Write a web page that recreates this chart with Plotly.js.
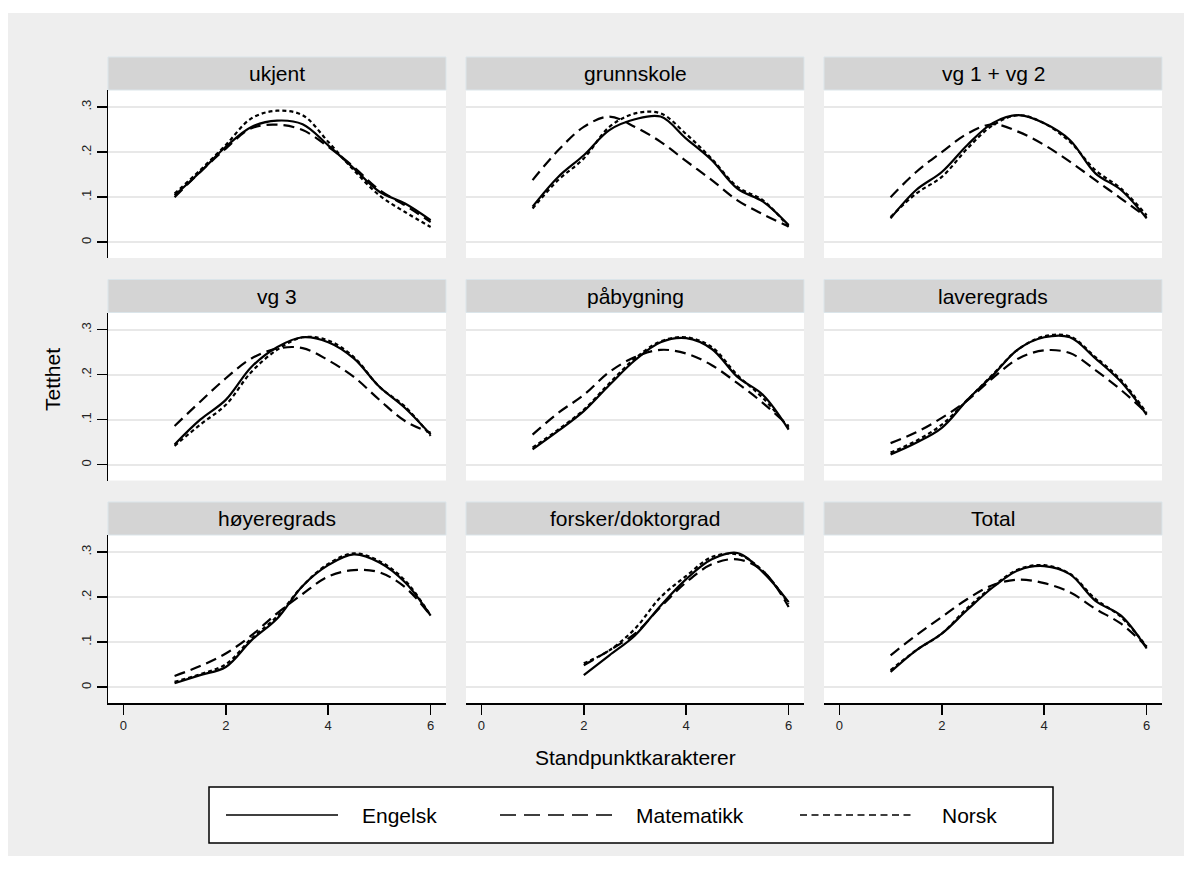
<!DOCTYPE html>
<html>
<head>
<meta charset="utf-8">
<script src="https://cdn.plot.ly/plotly-3.0.1.min.js"></script>
<style>html,body{margin:0;padding:0;background:#fff}#chart{width:1192px;height:869px}</style>
</head>
<body>
<div id="chart"></div>
<script>
// ---------------- data ----------------
const panelTitles = ["ukjent", "grunnskole", "vg 1 + vg 2", "vg 3", "påbygning", "laveregrads", "høyeregrads", "forsker/doktorgrad", "Total"];
const xGrid = [1, 1.5, 2, 2.5, 3, 3.5, 4, 4.5, 5, 5.5, 6];
const xGridForsker = [2, 2.5, 3, 3.5, 4, 4.5, 5, 5.5, 6];
const seriesNames = ["Engelsk", "Matematikk", "Norsk"];
const xTickVals = [0, 2, 4, 6];
const xTickText = ["0", "2", "4", "6"];
const yTickVals = [0, 0.1, 0.2, 0.3];
const yTickText = ["0", ".1", ".2", ".3"];
const xTitle = "Standpunktkarakterer";
const yTitle = "Tetthet";

const engelsk = [
  [0.104, 0.156, 0.212, 0.256, 0.270, 0.262, 0.215, 0.164, 0.112, 0.086, 0.049],
  [0.079, 0.145, 0.193, 0.249, 0.273, 0.279, 0.230, 0.182, 0.119, 0.090, 0.038],
  [0.053, 0.116, 0.156, 0.216, 0.265, 0.282, 0.264, 0.227, 0.153, 0.116, 0.053],
  [0.045, 0.100, 0.144, 0.217, 0.261, 0.283, 0.272, 0.236, 0.173, 0.126, 0.067],
  [0.034, 0.075, 0.119, 0.177, 0.232, 0.272, 0.281, 0.257, 0.195, 0.155, 0.078],
  [0.023, 0.049, 0.082, 0.144, 0.199, 0.257, 0.283, 0.283, 0.236, 0.184, 0.111],
  [0.009, 0.027, 0.045, 0.104, 0.152, 0.225, 0.271, 0.295, 0.277, 0.233, 0.159],
  [0.027, 0.071, 0.115, 0.181, 0.240, 0.284, 0.298, 0.255, 0.189],
  [0.034, 0.082, 0.119, 0.172, 0.222, 0.260, 0.269, 0.251, 0.192, 0.159, 0.086]
];
const matematikk = [
  [0.100, 0.156, 0.208, 0.253, 0.261, 0.249, 0.212, 0.167, 0.116, 0.082, 0.045],
  [0.138, 0.204, 0.256, 0.279, 0.256, 0.223, 0.180, 0.138, 0.093, 0.062, 0.035],
  [0.100, 0.156, 0.200, 0.241, 0.262, 0.245, 0.216, 0.179, 0.138, 0.097, 0.056],
  [0.086, 0.140, 0.192, 0.236, 0.258, 0.259, 0.232, 0.195, 0.144, 0.097, 0.071],
  [0.067, 0.115, 0.155, 0.206, 0.239, 0.255, 0.247, 0.221, 0.181, 0.137, 0.086],
  [0.048, 0.072, 0.104, 0.143, 0.193, 0.236, 0.254, 0.248, 0.210, 0.166, 0.115],
  [0.025, 0.047, 0.075, 0.115, 0.164, 0.207, 0.246, 0.260, 0.255, 0.222, 0.159],
  [0.049, 0.082, 0.119, 0.178, 0.233, 0.273, 0.284, 0.258, 0.178],
  [0.071, 0.115, 0.156, 0.196, 0.227, 0.239, 0.231, 0.211, 0.174, 0.141, 0.090]
];
const norsk = [
  [0.108, 0.160, 0.216, 0.275, 0.292, 0.282, 0.223, 0.160, 0.104, 0.067, 0.034],
  [0.075, 0.138, 0.186, 0.256, 0.286, 0.286, 0.240, 0.185, 0.123, 0.093, 0.034],
  [0.056, 0.108, 0.145, 0.208, 0.260, 0.282, 0.264, 0.223, 0.160, 0.119, 0.060],
  [0.042, 0.089, 0.133, 0.206, 0.255, 0.283, 0.276, 0.239, 0.173, 0.129, 0.064],
  [0.038, 0.078, 0.122, 0.181, 0.236, 0.274, 0.283, 0.261, 0.199, 0.148, 0.082],
  [0.027, 0.053, 0.089, 0.144, 0.201, 0.257, 0.285, 0.285, 0.239, 0.188, 0.115],
  [0.012, 0.029, 0.051, 0.108, 0.157, 0.225, 0.274, 0.297, 0.280, 0.237, 0.159],
  [0.053, 0.082, 0.130, 0.200, 0.247, 0.289, 0.295, 0.258, 0.185],
  [0.038, 0.082, 0.119, 0.176, 0.224, 0.262, 0.271, 0.252, 0.196, 0.156, 0.090]
];

// ---------------- styling / geometry (pixels) ----------------
const W = 1192, H = 869;
const FONT = "Liberation Sans, Arial, Helvetica, sans-serif";
const dashes = ["solid", "11px,6px", "4px,3px"];
const legendDashes = ["solid", "16px,8px", "7px,4.5px"];
const lineWidth = 2.2;
const colLeft = [108, 466, 824], colWidth = 338;
const rowTop = [90, 312.5, 535], rowHeight = 168, stripH = 33;
const xRange = [-0.3, 6.3];
const yRange = [-0.035, 0.338];
const textSize = 21, tickSize = 13;

const px = v => v / W;
const py = v => 1 - v / H;

const allSeries = [engelsk, matematikk, norsk];
const traces = [];
const layout = {
  width: W, height: H,
  margin: {l: 0, r: 0, t: 0, b: 0},
  paper_bgcolor: "#eeeeee",
  plot_bgcolor: "#ffffff",
  showlegend: false,
  font: {family: FONT, color: "#000"},
  shapes: [], annotations: []
};

panelTitles.forEach((title, i) => {
  const r = Math.floor(i / 3), c = i % 3;
  const n = i + 1;
  const xa = n === 1 ? "x" : "x" + n;
  const ya = n === 1 ? "y" : "y" + n;
  const xs = i === 7 ? xGridForsker : xGrid;
  allSeries.forEach((ser, s) => {
    traces.push({
      type: "scatter", mode: "lines", name: seriesNames[s],
      x: xs, y: ser[i], xaxis: xa, yaxis: ya,
      line: {color: "#000", width: lineWidth, dash: dashes[s], shape: "spline", smoothing: 1},
      hoverinfo: "skip"
    });
  });
  const L = colLeft[c], T = rowTop[r];
  const isLeft = c === 0, isBottom = r === 2;
  layout["xaxis" + (n === 1 ? "" : n)] = {
    domain: [px(L), px(L + colWidth)], anchor: ya, range: xRange,
    showgrid: false, zeroline: false,
    showline: isBottom, linecolor: "#000", linewidth: 1.5,
    ticks: isBottom ? "outside" : "", ticklen: 10, tickwidth: 1.5, tickcolor: "#000",
    showticklabels: isBottom, tickmode: "array", tickvals: xTickVals, ticktext: xTickText,
    tickfont: {size: tickSize, color: "#222", family: FONT}, fixedrange: true
  };
  layout["yaxis" + (n === 1 ? "" : n)] = {
    domain: [py(T + rowHeight), py(T)], anchor: xa, range: yRange,
    showgrid: true, gridcolor: "#e8e8e8", gridwidth: 2, zeroline: false,
    showline: isLeft, linecolor: "#000", linewidth: 1.5,
    ticks: isLeft ? "outside" : "", ticklen: 10, tickwidth: 1.5, tickcolor: "#000",
    showticklabels: isLeft, tickmode: "array", tickvals: yTickVals, ticktext: yTickText,
    tickangle: -90, tickfont: {size: tickSize, color: "#222", family: FONT}, fixedrange: true
  };
  // strip header
  layout.shapes.push({
    type: "rect", xref: "paper", yref: "paper",
    x0: px(L), x1: px(L + colWidth), y0: py(T), y1: py(T - stripH),
    fillcolor: "#d4d4d4", line: {color: "#dbe5ea", width: 1}, layer: "above"
  });
  layout.annotations.push({
    xref: "paper", yref: "paper", x: px(L + colWidth / 2), y: py(T - stripH / 2),
    text: title, showarrow: false, xanchor: "center", yanchor: "middle",
    font: {size: textSize, family: FONT, color: "#000"}
  });
});

// white outer border
[[0, 0, W, 13], [0, 856, W, H], [0, 0, 8, H], [1184, 0, W, H]].forEach(b => {
  layout.shapes.push({type: "rect", xref: "paper", yref: "paper",
    x0: px(b[0]), x1: px(b[2]), y0: py(b[3]), y1: py(b[1]),
    fillcolor: "#ffffff", line: {width: 0}, layer: "above"});
});

// axis titles
layout.annotations.push({
  xref: "paper", yref: "paper", x: px(635), y: py(757), text: xTitle, showarrow: false,
  xanchor: "center", yanchor: "middle", font: {size: textSize, family: FONT, color: "#000"}
});
layout.annotations.push({
  xref: "paper", yref: "paper", x: px(52), y: py(380), text: yTitle, showarrow: false,
  textangle: -90, xanchor: "center", yanchor: "middle", font: {size: textSize, family: FONT, color: "#000"}
});

// legend (drawn as a key box)
const legendBox = {x0: 209, x1: 1053, y0: 787, y1: 843};
const legendLineX = [[226, 338], [500, 612], [800, 912]];
const legendTextX = [360, 634, 940];
const legendY = 815;
layout.shapes.push({type: "rect", xref: "paper", yref: "paper",
  x0: px(legendBox.x0), x1: px(legendBox.x1), y0: py(legendBox.y1), y1: py(legendBox.y0),
  fillcolor: "#ffffff", line: {color: "#000", width: 1.5}, layer: "above"});
seriesNames.forEach((nm, s) => {
  layout.shapes.push({type: "line", xref: "paper", yref: "paper",
    x0: px(legendLineX[s][0]), x1: px(legendLineX[s][1]), y0: py(legendY), y1: py(legendY),
    line: {color: "#000", width: 1.5, dash: legendDashes[s]}, layer: "above"});
  layout.annotations.push({xref: "paper", yref: "paper", x: px(legendTextX[s]), y: py(legendY),
    text: nm, showarrow: false, xanchor: "left", yanchor: "middle",
    font: {size: textSize, family: FONT, color: "#000"}});
});

Plotly.newPlot("chart", traces, layout, {staticPlot: true, displayModeBar: false});
</script>
</body>
</html>
